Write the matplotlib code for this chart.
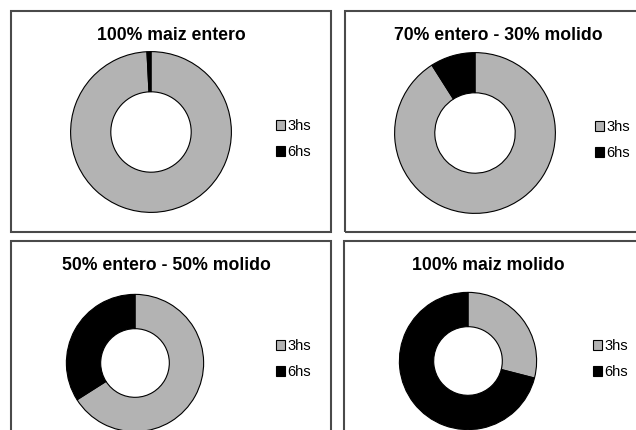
import matplotlib
matplotlib.use("Agg")
import matplotlib.pyplot as plt
from matplotlib.patches import Rectangle

plt.rcParams['font.family'] = ['Liberation Sans', 'DejaVu Sans']

titles = ["100% maiz entero", "70% entero - 30% molido",
          "50% entero - 50% molido", "100% maiz molido"]
labels = ["3hs", "6hs"]
h3 = [99.2, 91, 66, 29]
h6 = [0.8, 9, 34, 71]
colors = ["#b3b3b3", "#000000"]

W, H = 636, 430
fig = plt.figure(figsize=(W / 100, H / 100), dpi=100)


def px(x, y, w, h):
    # pixel box (top-left origin) -> figure fraction
    return [x / W, 1 - (y + h) / H, w / W, h / H]


# panel frames: x, y, w, h in pixels
frames = [(11, 11, 320, 221), (345, 11, 400, 221),
          (11, 241, 320, 300), (344, 241, 400, 300)]
# donut centre and radius, title pos, legend pos
donuts = [(151, 132, 82), (475, 133, 82), (135, 363, 70), (468, 361, 70)]
title_pos = [(171, 35), (498, 35), (166, 266), (488, 266)]
leg_pos = [(276, 139), (595, 140), (276, 359), (593, 359)]

for i in range(4):
    fx, fy, fw, fh = frames[i]
    fig.add_artist(Rectangle((fx / W, 1 - (fy + fh) / H), fw / W, fh / H,
                             transform=fig.transFigure, fill=False,
                             edgecolor="#4a4a4a", linewidth=1.5))
    cx, cy, r = donuts[i]
    ax = fig.add_axes(px(cx - r, cy - r, 2 * r, 2 * r))
    wedges, _ = ax.pie([h3[i], h6[i]], colors=colors, startangle=90,
                       counterclock=False, radius=1,
                       wedgeprops=dict(width=0.5, edgecolor="black", linewidth=0.8))
    ax.set_xlim(-1.02, 1.02)
    ax.set_ylim(-1.02, 1.02)
    ax.set_aspect("equal")
    ax.axis("off")
    tx, ty = title_pos[i]
    fig.text(tx / W, 1 - ty / H, titles[i], ha="center", va="center",
             fontsize=12.7, fontweight="bold")
    lx, ly = leg_pos[i]
    fig.legend(wedges, labels, loc="center left",
               bbox_to_anchor=(lx / W, 1 - ly / H), frameon=False,
               fontsize=10.5, handlelength=0.65, handleheight=0.65,
               handletextpad=0.15, labelspacing=0.85, borderpad=0,
               borderaxespad=0)

fig.savefig("out.png", dpi=100)
